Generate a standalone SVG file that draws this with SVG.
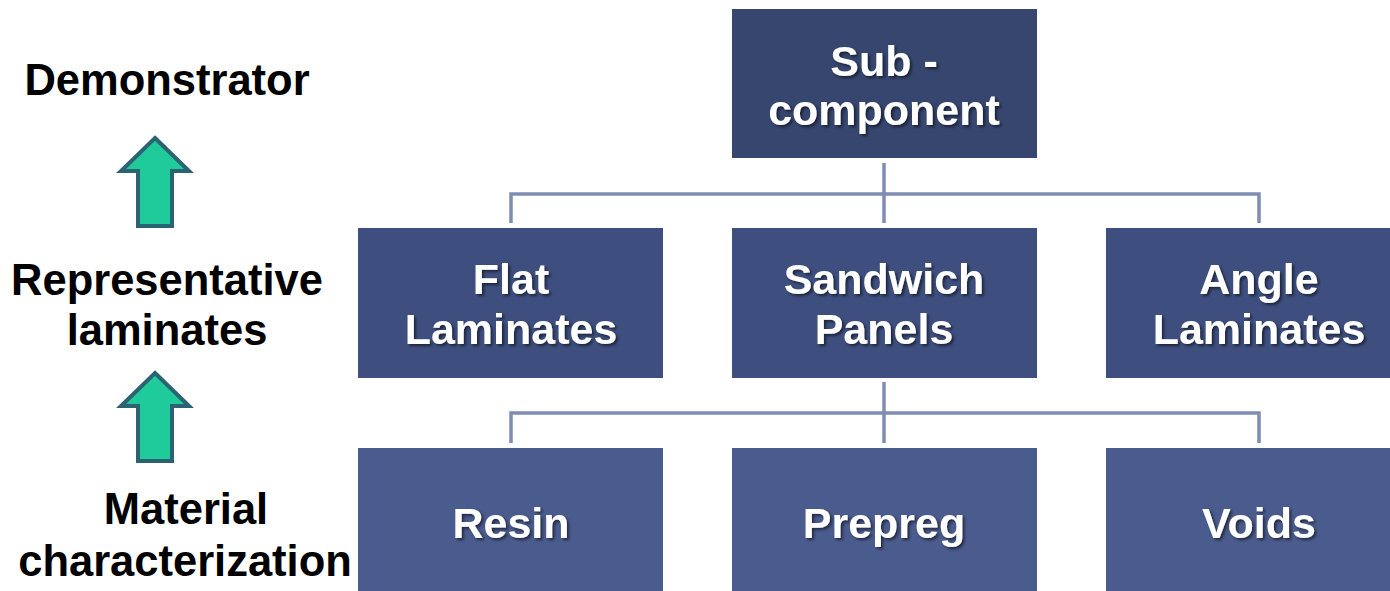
<svg xmlns="http://www.w3.org/2000/svg" width="1390" height="591" viewBox="0 0 1390 591">
  <defs>
    <filter id="shadow" x="-10%" y="-10%" width="130%" height="140%">
      <feDropShadow dx="2" dy="2" stdDeviation="1.5" flood-color="#000" flood-opacity="0.55"/>
    </filter>
    <style>
      .lbl { font-family: "Liberation Sans", Arial, sans-serif; font-weight: bold; font-size: 43.5px; fill: #000; text-anchor: middle; }
      .ntxt { font-family: "Liberation Sans", Arial, sans-serif; font-weight: bold; font-size: 43px; fill: #fff; text-anchor: middle; filter: url(#shadow); }
      .top { fill: #36466f; }
      .mid { fill: #3e4f7f; }
      .bot { fill: #4a5b8d; }
      .conn { fill: none; stroke: #7f8db2; stroke-width: 3.5; }
      .up { fill: #1fcb9b; stroke: #2b6373; stroke-width: 4; stroke-linejoin: miter; }
    </style>
  </defs>
  <rect width="1390" height="591" fill="#fff"/>

  <!-- level labels -->
  <g id="labels">
    <text class="lbl" x="167" y="95">Demonstrator</text>
    <text class="lbl" x="167" y="295">Representative</text>
    <text class="lbl" x="167" y="345">laminates</text>
    <text class="lbl" x="186" y="524">Material</text>
    <text class="lbl" x="185" y="576">characterization</text>
  </g>

  <!-- upward arrows -->
  <g id="arrow-1">
    <polygon class="up" points="155,138 189,171 172,171 172,226 138,226 138,171 121,171"/>
  </g>
  <g id="arrow-2">
    <polygon class="up" points="155,373 189,406 172,406 172,461 138,461 138,406 121,406"/>
  </g>

  <!-- connectors -->
  <g id="connectors">
    <path class="conn" d="M884,163 V223 M511,223 V194 H1259 V223"/>
    <path class="conn" d="M884,382 V443 M511,443 V413 H1259 V443"/>
  </g>

  <g id="node-subcomponent">
    <rect class="top" x="732" y="9" width="305" height="149"/>
    <text class="ntxt" x="884" y="76">Sub -</text>
    <text class="ntxt" x="884" y="125">component</text>
  </g>

  <g id="node-flat">
    <rect class="mid" x="358" y="228" width="305" height="150"/>
    <text class="ntxt" x="511" y="294">Flat</text>
    <text class="ntxt" x="511" y="344">Laminates</text>
  </g>
  <g id="node-sandwich">
    <rect class="mid" x="732" y="228" width="305" height="150"/>
    <text class="ntxt" x="884" y="294">Sandwich</text>
    <text class="ntxt" x="884" y="344">Panels</text>
  </g>
  <g id="node-angle">
    <rect class="mid" x="1106" y="228" width="305" height="150"/>
    <text class="ntxt" x="1259" y="294">Angle</text>
    <text class="ntxt" x="1259" y="344">Laminates</text>
  </g>

  <g id="node-resin">
    <rect class="bot" x="358" y="448" width="305" height="150"/>
    <text class="ntxt" x="511" y="538">Resin</text>
  </g>
  <g id="node-prepreg">
    <rect class="bot" x="732" y="448" width="305" height="150"/>
    <text class="ntxt" x="884" y="538">Prepreg</text>
  </g>
  <g id="node-voids">
    <rect class="bot" x="1106" y="448" width="305" height="150"/>
    <text class="ntxt" x="1259" y="538">Voids</text>
  </g>
</svg>
